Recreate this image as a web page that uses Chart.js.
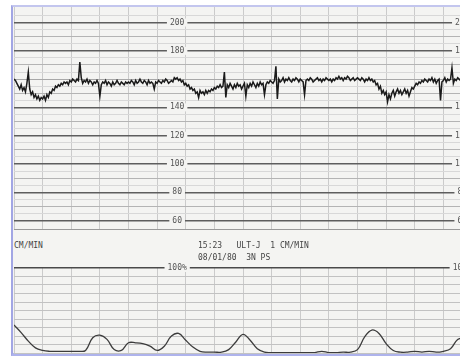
<!DOCTYPE html>
<html>
<head>
<meta charset="utf-8">
<script src="https://cdn.jsdelivr.net/npm/chart.js@4.4.1/dist/chart.umd.min.js"></script>
<style>
html, body { margin: 0; padding: 0; background: #fff; width: 460px; height: 357px; overflow: hidden; }
#paper { position: absolute; left: 11px; top: 5px; width: 470px; height: 346px; background: #f4f4f2;
  border-left: 2px solid #a2a6e4; border-top: 2px solid #c3c6ee; border-bottom: 3px solid #aeb3ec; }
canvas { position: absolute; left: 0; }
#fhr { top: 0; }
#ua { top: 258px; }
.txt { position: absolute; font: 8px "DejaVu Sans Mono", monospace; color: #444; white-space: pre; }
</style>
</head>
<body>
<div id="paper"></div>
<canvas id="fhr" width="480" height="232"></canvas>
<canvas id="ua" width="480" height="99"></canvas>
<div class="txt" style="left:14px;top:241px">CM/MIN</div>
<div class="txt" style="left:198px;top:241px">15:23   ULT-J  1 CM/MIN</div>
<div class="txt" style="left:198px;top:253px">08/01/80  3N PS</div>
<script>
// fetal heart rate, one row per minute, sample every 0.05 min
var fhrStep = 0.05;
var fhrBpm = [
  160,159,157,155,153,156,152,154,151,157,165,153,149,151,147,149,146,148,145,147,
  146,148,145,149,147,151,150,153,152,155,154,156,155,157,156,158,157,158,156,159,
  158,160,159,158,160,159,172,161,157,159,158,160,157,159,158,156,158,157,159,157,
  148,156,158,157,159,156,158,157,155,158,156,157,159,157,156,158,157,156,158,157,
  158,157,159,158,156,159,157,158,160,158,157,159,158,156,159,157,158,157,153,158,
  157,159,158,157,159,158,160,159,157,158,159,158,161,160,161,159,160,158,159,156,
  157,155,156,153,154,152,153,150,151,147,152,150,151,149,152,150,152,151,153,152,
  154,153,155,154,156,154,155,165,147,156,154,157,155,153,156,154,157,155,156,153,
  155,157,148,156,154,157,155,158,156,154,157,155,158,156,157,149,156,158,157,159,
  158,157,159,169,146,160,158,159,161,158,160,159,161,159,158,160,159,161,160,158,
  160,159,158,149,159,160,159,161,160,158,159,160,161,159,160,158,160,159,161,160,
  159,160,158,160,159,161,160,162,160,161,159,161,160,162,161,159,160,161,159,160,
  161,160,159,161,160,158,160,159,161,159,160,158,159,156,157,153,155,150,152,149,
  151,144,149,146,150,152,148,151,153,150,152,149,151,153,150,152,148,151,154,153,
  155,157,156,158,157,159,158,160,159,158,160,159,161,158,160,157,159,160,145,158,
  159,161,158,160,159,160,168,157,160,159,161,160,159,160,158,160,159,161,160,159
];

// uterine activity, sample every 0.25 min
var uaStep = 0.25;
var uaPct = [
  33,24,14,6, 3,2,2,2, 2,2,3,18, 21,16,4,3, 12,12,11,8, 3,8,20,23,
  15,7,2,1, 1,1,4,13, 22,15,5,1, 0.5,0.5,0.5,0.5, 0.5,0.5,0.5,2, 0.5,0.5,1,1,
  4,19,27,23, 11,3,1,1, 2,1,2,1, 2,5,16,18
];

var fhrLabels = [200, 180, 140, 120, 100, 80, 60];
var uaLabels = [100];
var uaLabelText = ['100%'];

var paperBg = '#f4f4f2';

var paperLabels = {
  id: 'paperLabels',
  beforeDatasetsDraw: function(chart, args, opts) {
    var ctx = chart.ctx, xs = chart.scales.x, ys = chart.scales.y;
    ctx.save();
    ctx.font = '8px "DejaVu Sans Mono"';
    ctx.textBaseline = 'middle';
    ctx.textAlign = 'center';
    opts.values.forEach(function(v, i) {
      var py = ys.getPixelForValue(v);
      var t = opts.text ? opts.text[i] : String(v);
      var w = ctx.measureText(t).width;
      opts.columns.forEach(function(c) {
        var px = xs.getPixelForValue(c);
        ctx.fillStyle = paperBg;
        ctx.fillRect(px - w / 2 - 3, py - 4, w + 6, 8);
        ctx.fillStyle = '#555';
        ctx.fillText(t, px, py);
      });
    });
    ctx.restore();
  }
};

Chart.defaults.animation = false;

new Chart(document.getElementById('fhr'), {
  type: 'line',
  data: {
    datasets: [{
      data: fhrBpm.map(function(v, i) { return {x: i * fhrStep, y: v}; }),
      borderColor: '#1a1a1a',
      borderWidth: 1.5,
      pointRadius: 0,
      tension: 0
    }]
  },
  options: {
    responsive: false,
    devicePixelRatio: 1,
    layout: {padding: {left: 14, top: 7, right: 8, bottom: 3}},
    plugins: {
      legend: {display: false},
      tooltip: {enabled: false},
      paperLabels: {values: fhrLabels, columns: [5.7, 15.66]}
    },
    scales: {
      x: {
        type: 'linear', min: 0, max: 16,
        ticks: {display: false, stepSize: 1},
        grid: {color: '#cbcbcb', lineWidth: 1, drawTicks: false},
        border: {display: true, color: '#9a9a9a'}
      },
      y: {
        min: 54, max: 211,
        ticks: {display: false, stepSize: 5},
        grid: {
          drawTicks: false,
          color: function(c) {
            var v = c.tick.value;
            if (v === 160) return '#a8a8a8';
            if (v % 20 === 0) return '#5e5e5e';
            if (v % 10 === 0) return '#b4b4b4';
            if (v % 5 === 0) return '#d8d8d8';
            return 'rgba(0,0,0,0)';
          },
          lineWidth: function(c) { return c.tick.value % 20 === 0 && c.tick.value !== 160 ? 1.4 : 1; }
        },
        border: {display: false}
      }
    }
  },
  plugins: [paperLabels]
});

new Chart(document.getElementById('ua'), {
  type: 'line',
  data: {
    datasets: [{
      data: uaPct.map(function(v, i) { return {x: i * uaStep, y: v}; }),
      borderColor: '#3c3c3c',
      borderWidth: 1.3,
      pointRadius: 0,
      tension: 0.4
    }]
  },
  options: {
    responsive: false,
    devicePixelRatio: 1,
    layout: {padding: {left: 14, top: 10, right: 8, bottom: 4}},
    plugins: {
      legend: {display: false},
      tooltip: {enabled: false},
      paperLabels: {values: uaLabels, text: uaLabelText, columns: [5.7, 15.66]}
    },
    scales: {
      x: {
        type: 'linear', min: 0, max: 16,
        ticks: {display: false, stepSize: 1},
        grid: {color: '#cbcbcb', lineWidth: 1, drawTicks: false},
        border: {display: false}
      },
      y: {
        min: 0, max: 100,
        ticks: {display: false, stepSize: 10},
        grid: {
          drawTicks: false,
          color: function(c) { return c.tick.value === 100 ? '#4a4a4a' : '#c2c2c2'; },
          lineWidth: function(c) { return c.tick.value === 100 ? 1.6 : 1; }
        },
        border: {display: false}
      }
    }
  },
  plugins: [paperLabels]
});
</script>
</body>
</html>
